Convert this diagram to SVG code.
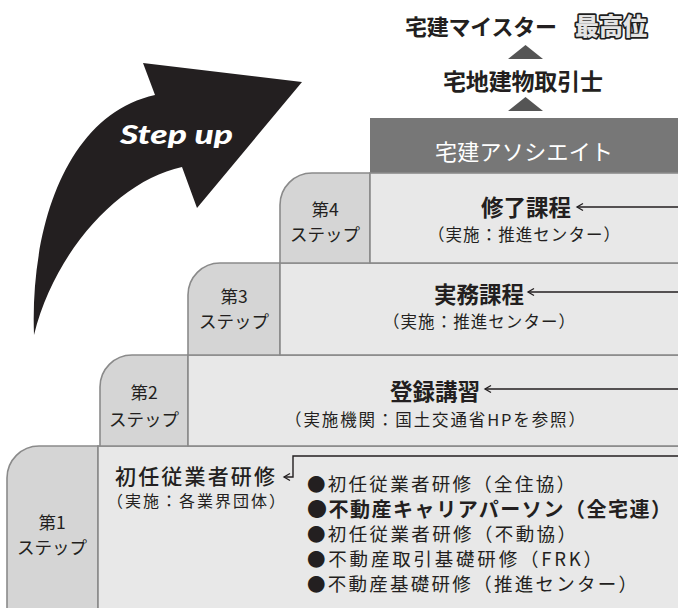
<svg xmlns="http://www.w3.org/2000/svg" width="678" height="608" viewBox="0 0 678 608">
<defs>
<style>
text{font-family:"Noto Sans CJK JP","Noto Sans",sans-serif;fill:#231f20;dominant-baseline:central}
.tab{fill:#d5d5d5;stroke:#8a8a8a;stroke-width:1.6}
.box{fill:#e8e8e8;stroke:#8a8a8a;stroke-width:1.6}
.tt{font-size:17.5px;text-anchor:middle}
.hd{font-size:22.5px;font-weight:700;text-anchor:middle}
.sub{font-size:16.5px;text-anchor:middle}
.bl{font-size:18.5px}
.con{fill:none;stroke:#231f20;stroke-width:1.4;marker-end:url(#ah)}
.tri{fill:#555}
</style>
<marker id="ah" markerUnits="userSpaceOnUse" markerWidth="12" markerHeight="12" viewBox="-8 -6 10 12" refX="0" refY="0" orient="auto">
<path d="M-6,-3.5 L0,0 L-6,3.5" fill="none" stroke="#231f20" stroke-width="1.3"/>
</marker>
</defs>
<rect width="678" height="608" fill="#fff"/>

<g id="stepup-arrow">
<path d="M34,335 C30,230 65,115 155,95 L143,63 L302,82 L197,208 L182,167 C120,180 55,250 34,335 Z" fill="#231f20"/>
<text x="120" y="134" textLength="113" lengthAdjust="spacingAndGlyphs" style="font-family:Lato,'Liberation Sans',sans-serif;font-size:26px;font-weight:900;font-style:italic;fill:#fff">Step up</text>
</g>

<g id="top-title">
<text x="405" y="25" textLength="152" style="font-size:22px;font-weight:700">宅建マイスター</text>
<text x="575" y="24" textLength="72" style="font-size:24px;font-weight:900;fill:#e4e4e4;stroke:#1e1e1e;stroke-width:3.4;paint-order:stroke;stroke-linejoin:round">最高位</text>
<polygon class="tri" points="525.5,45 543,59 508,59"/>
</g>

<g id="takken-shi">
<text x="443" y="80" textLength="160" style="font-size:23px;font-weight:700">宅地建物取引士</text>
<polygon class="tri" points="525.5,97 543,111 508,111"/>
</g>

<g id="associate">
<rect x="370" y="118" width="312" height="55" fill="#777"/>
<text x="524" y="150" textLength="178" style="font-size:22px;fill:#fff;text-anchor:middle">宅建アソシエイト</text>
</g>

<g id="step1">
<path class="tab" d="M7,620 V478 A32,32 0 0 1 39,446 H98 V620 Z"/>
<rect class="box" x="98" y="446" width="590" height="180"/>
<text class="tt" x="52" y="521">第1</text>
<text class="tt" x="52" y="546">ステップ</text>
<text x="115" y="475" textLength="160" style="font-size:21px;font-weight:500">初任従業者研修</text>
<text x="107" y="500" textLength="178" style="font-size:16px">（実施：各業界団体）</text>
<text class="bl" x="307" y="483" textLength="268">●初任従業者研修（全住協）</text>
<text class="bl" x="307" y="508" textLength="364" style="font-size:20px;font-weight:700">●不動産キャリアパーソン（全宅連）</text>
<text class="bl" x="307" y="533" textLength="269">●初任従業者研修（不動協）</text>
<text class="bl" x="307" y="558" textLength="295">●不動産取引基礎研修（FRK）</text>
<text class="bl" x="307" y="583" textLength="330">●不動産基礎研修（推進センター）</text>
</g>

<g id="step2">
<path class="tab" d="M100,446 V387 A32,32 0 0 1 132,355 H188 V446 Z"/>
<rect class="box" x="188" y="355" width="500" height="91"/>
<text class="tt" x="144" y="391">第2</text>
<text class="tt" x="144" y="418">ステップ</text>
<text class="hd" x="435" y="390">登録講習</text>
<text class="sub" x="435" y="419" textLength="300">（実施機関：国土交通省HPを参照）</text>
</g>

<g id="step3">
<path class="tab" d="M188,355 V295 A32,32 0 0 1 220,263 H280 V355 Z"/>
<rect class="box" x="280" y="263" width="408" height="92"/>
<text class="tt" x="234" y="295">第3</text>
<text class="tt" x="234" y="320">ステップ</text>
<text class="hd" x="479" y="293">実務課程</text>
<text class="sub" x="479" y="321" textLength="192">（実施：推進センター）</text>
</g>

<g id="step4">
<path class="tab" d="M280,263 V205 A32,32 0 0 1 312,173 H370 V263 Z"/>
<rect class="box" x="370" y="173" width="318" height="90"/>
<text class="tt" x="325" y="208">第4</text>
<text class="tt" x="325" y="233">ステップ</text>
<text class="hd" x="526" y="206">修了課程</text>
<text class="sub" x="524" y="234" textLength="192">（実施：推進センター）</text>
</g>

<g id="connectors">
<path class="con" d="M680,207 H577"/>
<path class="con" d="M680,292 H528"/>
<path class="con" d="M680,389 H485"/>
<path class="con" d="M680,456 H293 V477 H284"/>
</g>
</svg>
